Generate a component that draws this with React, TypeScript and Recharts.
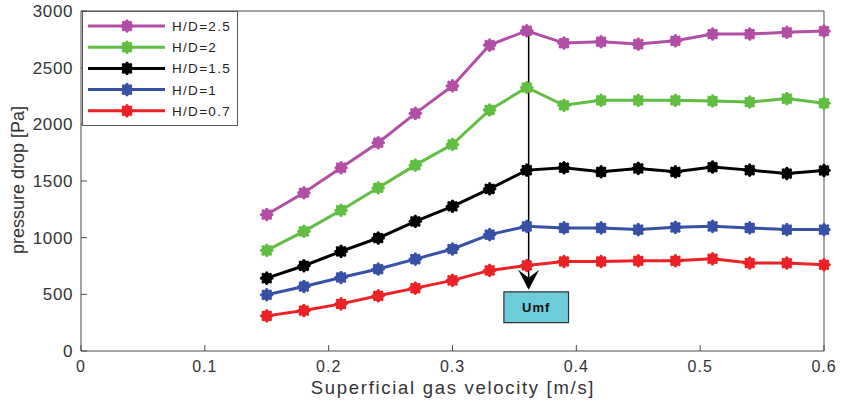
import React from 'react'
import {
    LineChart, Line, XAxis, YAxis, Legend, ReferenceLine, ReferenceArea,
} from 'recharts'

// superficial gas velocity [m/s]
const velocity: number[] = [0.15, 0.18, 0.21, 0.24, 0.27, 0.30, 0.33, 0.36, 0.39, 0.42, 0.45, 0.48, 0.51, 0.54, 0.57, 0.60]

// pressure drop [Pa] for each H/D
const hd25: number[] = [1204, 1396, 1617, 1838, 2097, 2339, 2699, 2826, 2717, 2729, 2708, 2737, 2797, 2797, 2812, 2823]
const hd2: number[] = [888, 1056, 1242, 1440, 1640, 1823, 2127, 2325, 2168, 2212, 2212, 2212, 2206, 2197, 2227, 2186]
const hd15: number[] = [643, 752, 879, 997, 1144, 1277, 1431, 1596, 1617, 1581, 1611, 1581, 1623, 1596, 1566, 1593]
const hd1: number[] = [496, 569, 649, 723, 811, 900, 1027, 1100, 1086, 1086, 1071, 1091, 1100, 1086, 1071, 1071]
const hd07: number[] = [310, 357, 416, 487, 555, 623, 711, 755, 790, 790, 796, 796, 814, 776, 776, 761]

const xTicks: number[] = [0, 0.1, 0.2, 0.3, 0.4, 0.5, 0.6]
const yTicks: number[] = [0, 500, 1000, 1500, 2000, 2500, 3000]

// Umf annotation (arrow from peak down to the label box)
const umfX = 0.3615
const arrowFrom = 2830
const arrowTo = 540
const boxX: number[] = [0.3415, 0.3937]
const boxY: number[] = [250, 522]

interface ISeries {
    key: string,
    name: string,
    color: string,
    values: number[]
}

const SERIES: ISeries[] = [
    { key: 'hd25', name: 'H/D=2.5', color: '#B24EA6', values: hd25 },
    { key: 'hd2', name: 'H/D=2', color: '#62BE42', values: hd2 },
    { key: 'hd15', name: 'H/D=1.5', color: '#000000', values: hd15 },
    { key: 'hd1', name: 'H/D=1', color: '#3651A6', values: hd1 },
    { key: 'hd07', name: 'H/D=0.7', color: '#EC2227', values: hd07 },
]

const data = velocity.map((v, i) => {
    const row: { [k: string]: number } = { v }
    SERIES.forEach(s => { row[s.key] = s.values[i] })
    return row
})

const FONT = '"Liberation Sans", Arial, Helvetica, sans-serif'
const AXIS = '#4a4a4a'
const TEXT = '#333333'

// blobby asterisk marker
const Star = (cx: number, cy: number, color: string, key?: string) => (
    <g key={key}>
        <circle cx={cx} cy={cy} r={5.4} fill={color} />
        {[0, 45, 90, 135].map(a => {
            const r = 5.2
            const dx = Math.cos(a * Math.PI / 180) * r
            const dy = Math.sin(a * Math.PI / 180) * r
            return <line key={a} x1={cx - dx} y1={cy - dy} x2={cx + dx} y2={cy + dy}
                stroke={color} strokeWidth={3.2} strokeLinecap="round" />
        })}
    </g>
)

const makeDot = (color: string) => (props: any) => {
    const { cx, cy, index } = props
    if (cx == null || cy == null) return <g key={index} />
    return Star(cx, cy, color, `d-${index}`)
}

const LegendBox = () => (
    <svg width={156} height={115} style={{ display: 'block' }}>
        <rect x={0.5} y={0.5} width={155} height={114} fill="#fff" stroke="#555" strokeWidth={1} />
        {SERIES.map((s, i) => {
            const y = 15 + i * 21.2
            return (
                <g key={s.key}>
                    <line x1={6} y1={y} x2={83} y2={y} stroke={s.color} strokeWidth={3} />
                    {Star(45, y, s.color)}
                    <text x={90} y={y + 5} fontFamily={FONT} fontSize={13.5} letterSpacing={1.3} fill="#222">
                        {s.name}
                    </text>
                </g>
            )
        })}
    </svg>
)

const Arrow = (props: any) => {
    const { x1, y1, y2 } = props
    const x = x1
    return (
        <g>
            <line x1={x} y1={y1} x2={x} y2={y2 - 10} stroke="#000" strokeWidth={1.5} />
            <path d={`M${x},${y2} L${x - 10.5},${y2 - 20} L${x},${y2 - 12} L${x + 10.5},${y2 - 20} Z`} fill="#000" />
        </g>
    )
}

const App: React.FunctionComponent = () => {
    return (
        <div style={{ position: 'absolute', left: 0, top: 0 }}>
            <LineChart width={841} height={402} data={data}
                margin={{ top: 10, right: 16, bottom: 0, left: 0 }}>
                <XAxis xAxisId="top" orientation="top" type="number" dataKey="v" domain={[0, 0.6]}
                    ticks={xTicks} height={1} tick={false} tickSize={-6} stroke={AXIS} />
                <XAxis dataKey="v" type="number" domain={[0, 0.6]} ticks={xTicks} height={51}
                    tickSize={-6} tickMargin={16} stroke={AXIS} interval={0}
                    tick={{ fill: TEXT, fontSize: 16, fontFamily: FONT, letterSpacing: 1 }}
                    label={(p: any) => (
                        <text x={453} y={394} textAnchor="middle" fontFamily={FONT} fontSize={18.5}
                            letterSpacing={1.7} fill={TEXT}>Superficial gas velocity [m/s]</text>
                    )} />
                <YAxis domain={[0, 3000]} ticks={yTicks} width={81} tickSize={-6} tickMargin={14}
                    stroke={AXIS} interval={0}
                    tick={{ fill: TEXT, fontSize: 17, fontFamily: FONT, letterSpacing: 0.6 }}
                    label={(p: any) => (
                        <text x={24} y={180} transform="rotate(-90, 24, 180)" textAnchor="middle"
                            fontFamily={FONT} fontSize={18} fill={TEXT}>pressure drop [Pa]</text>
                    )} />
                <YAxis yAxisId="right" orientation="right" domain={[0, 3000]} ticks={yTicks} width={1}
                    tick={false} tickSize={-6} stroke={AXIS} />
                {SERIES.map(s => (
                    <Line key={s.key} dataKey={s.key} name={s.name} stroke={s.color} strokeWidth={3}
                        dot={makeDot(s.color)} activeDot={false} isAnimationActive={false} />
                ))}
                <ReferenceLine segment={[{ x: umfX, y: arrowFrom }, { x: umfX, y: arrowTo }]}
                    shape={Arrow} ifOverflow="visible" />
                <ReferenceArea x1={boxX[0]} x2={boxX[1]} y1={boxY[0]} y2={boxY[1]}
                    fill="#6DCCDA" fillOpacity={1} stroke="#333" strokeWidth={1.2}
                    label={{ value: 'Umf', position: 'center', fill: '#111', fontSize: 13,
                        fontWeight: 'bold', fontFamily: FONT, letterSpacing: 1 }} />
                <Legend layout="vertical" align="center" verticalAlign="middle"
                    wrapperStyle={{ left: 82, top: 11, width: 156, height: 115 }}
                    content={() => <LegendBox />} />
            </LineChart>
        </div>
    )
}

export default App
